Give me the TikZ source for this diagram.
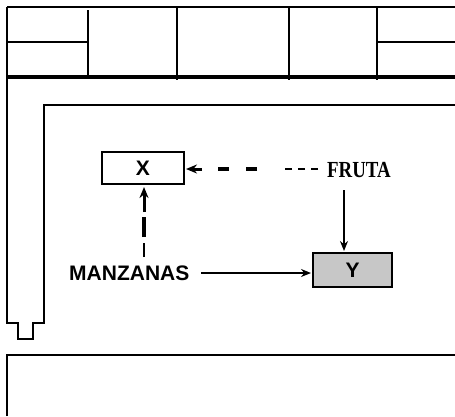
\documentclass[tikz,border=0pt]{standalone}
\usepackage{fontspec}
\usetikzlibrary{arrows.meta}
\usetikzlibrary{calc}
\newfontfamily\labelfont{Liberation Sans}
\newfontfamily\frutafont{Liberation Serif}[FakeStretch=0.82]

\begin{document}
\begin{tikzpicture}[x=1bp,y=-1bp,line cap=butt,line join=miter]
  \path[use as bounding box] (0,0) rectangle (455,416);
  \fill[white] (0,0) rectangle (455,416);

  \tikzset{
    frame/.style={line width=1.5bp,draw=black},
    tableline/.style={line width=2.2bp,draw=black},
    sanslabel/.style={inner sep=0pt,text=black,
      font=\fontsize{21bp}{21bp}\selectfont\labelfont\bfseries},
    seriflabel/.style={inner sep=0pt,text=black,
      font=\fontsize{23bp}{23bp}\selectfont\frutafont\bfseries},
    varbox/.style={draw=black,line width=2bp,inner sep=0pt,
      font=\fontsize{21bp}{21bp}\selectfont\labelfont\bfseries},
    solidarrow/.style={-{Stealth[length=10bp,width=8bp]},line width=1.5bp},
    headarrow/.style={-{Stealth[length=11bp,width=9bp]},line width=3bp},
    thickdash/.style={line width=4bp,dash pattern=on 11bp off 17bp},
    thindash/.style={line width=1.4bp,dash pattern=on 7bp off 6bp},
  }

  % Top table
  \draw[tableline] (7,7) -- (455,7);
  \draw[line width=4bp] (7,77) -- (455,77);
  \draw[tableline] (7,7) -- (7,79);
  \draw[tableline] (88,10) -- (88,77);
  \foreach \xx in {177,289,377} {
    \draw[tableline] (\xx,7) -- (\xx,80);
  }
  \draw[tableline] (7,42) -- (88,42);
  \draw[tableline] (377,42) -- (455,42);

  % Left panel outline
  \draw[frame] (7,79) -- (7,323) -- (18,323) -- (18,339) -- (33,339)
    -- (33,323) -- (44,323) -- (44,105) -- (455,105);

  % Bottom box
  \draw[frame] (7,416) -- (7,355) -- (455,355);

  % Boxes and labels
  \node[varbox,minimum width=82bp,minimum height=32bp] (xbox) at (143,168) {X};
  \node[varbox,fill=black!22,minimum width=79bp,minimum height=34bp] (ybox) at (352.5,270) {Y};
  \node[sanslabel,anchor=base west] (manz) at (69,280) {MANZANAS};
  \node[seriflabel,anchor=base west] (fruta) at (327,177) {FRUTA};

  % FRUTA -> X (dashed, thin then thick)
  \coordinate (hsplit) at ($(xbox.east)+(72,1)$);
  \draw[thindash] ($(fruta.west |- hsplit)+(-9,0)$) -- ($(hsplit)+(27,0)$);
  \draw[thickdash] (hsplit) -- ($(xbox.east)+(33,1)$);
  \draw[headarrow] ($(xbox.east)+(17,1)$) -- ($(xbox.east)+(1,1)$);

  % MANZANAS -> X (dashed, thin then thick)
  \coordinate (vsplit) at ($(xbox.south)+(1,58)$);
  \draw[line width=1.4bp] ($(vsplit)+(0,14)$) -- (vsplit);
  \draw[line width=4bp] ($(vsplit)+(0,-6)$) -- ($(xbox.south)+(1,32)$);
  \draw[headarrow] ($(xbox.south)+(1,27)$) -- ($(xbox.south)+(1,2)$);

  % Solid arrows into Y
  \draw[solidarrow] ($(ybox.west)+(-111,3)$) -- ($(ybox.west)+(-1,3)$);
  \draw[solidarrow] ($(ybox.north)+(-8.5,-62)$) -- ($(ybox.north)+(-8.5,-1)$);

\end{tikzpicture}
\end{document}
